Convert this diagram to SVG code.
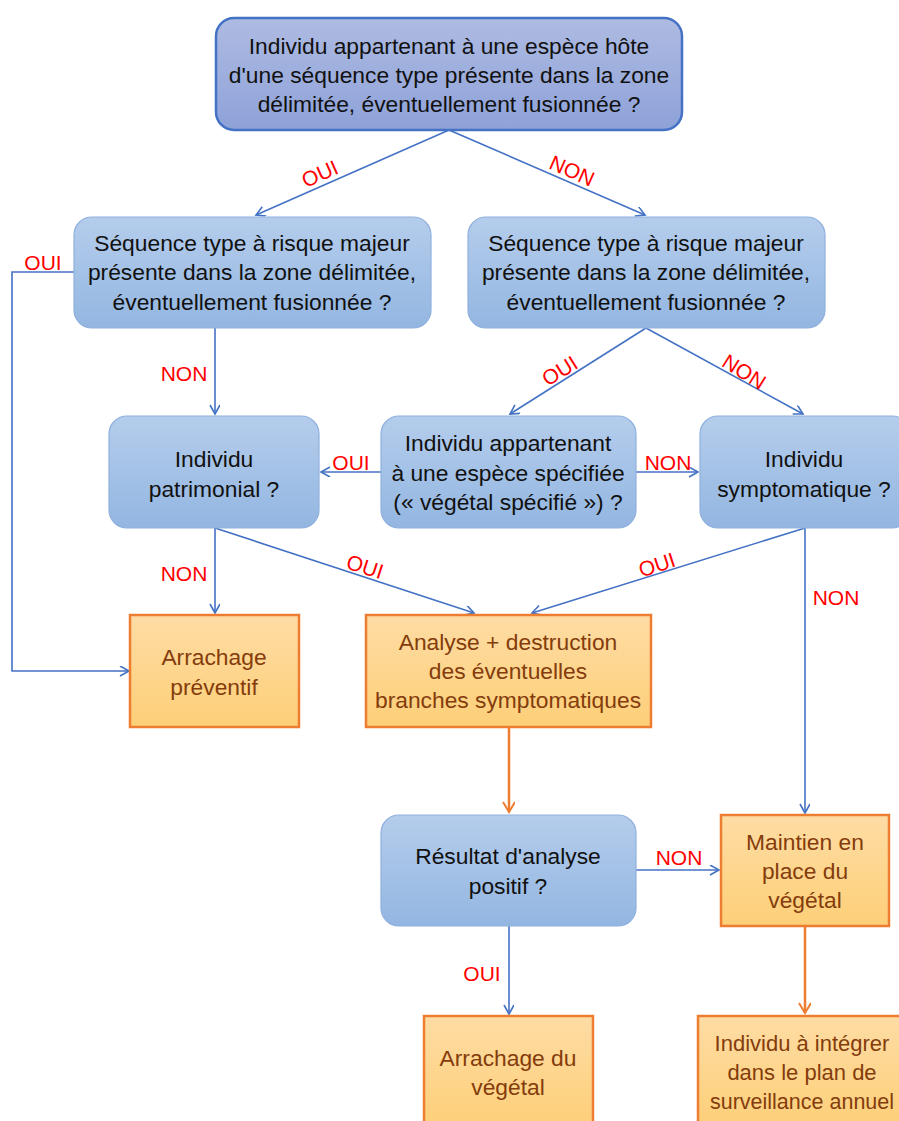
<svg xmlns="http://www.w3.org/2000/svg" width="899" height="1121" viewBox="0 0 899 1121">
<defs>
<linearGradient id="gTop" x1="0" y1="0" x2="0" y2="1"><stop offset="0" stop-color="#aebbe2"/><stop offset="1" stop-color="#8ea2d9"/></linearGradient>
<linearGradient id="gBlue" x1="0" y1="0" x2="0" y2="1"><stop offset="0" stop-color="#b5cdec"/><stop offset="1" stop-color="#93b6e1"/></linearGradient>
<linearGradient id="gOr" x1="0" y1="0" x2="0" y2="1"><stop offset="0" stop-color="#fedca4"/><stop offset="1" stop-color="#fdcf78"/></linearGradient>
<marker id="ab" markerWidth="12" markerHeight="12" refX="10" refY="5" orient="auto" markerUnits="userSpaceOnUse"><path d="M1,0 L10,5 L1,10" fill="none" stroke="#4472c4" stroke-width="1.6"/></marker>
<marker id="ao" markerWidth="14" markerHeight="14" refX="11" refY="6" orient="auto" markerUnits="userSpaceOnUse"><path d="M1,0 L11,6 L1,12" fill="none" stroke="#ed7d31" stroke-width="2"/></marker>
</defs>
<style>
.t{font-family:"Liberation Sans",Arial,sans-serif;font-size:22.8px;text-anchor:middle;fill:#111}
.to{font-family:"Liberation Sans",Arial,sans-serif;font-size:22.8px;text-anchor:middle;fill:#843c0c}
.lb{font-family:"Liberation Sans",Arial,sans-serif;font-size:21px;fill:#ff0000;text-anchor:middle}
.bl{fill:url(#gBlue);stroke:#8fb0de;stroke-width:1.2}
.or{fill:url(#gOr);stroke:#ed7d31;stroke-width:2.5}
.cb{fill:none;stroke:#4472c4;stroke-width:1.6;marker-end:url(#ab)}
.co{fill:none;stroke:#ed7d31;stroke-width:2.5;marker-end:url(#ao)}
</style>
<g id="connectors">
<path class="cb" d="M449,130 L256,215"/>
<path class="cb" d="M449,130 L645,215"/>
<path class="cb" d="M74,272 L12,272 L12,671 L129,671"/>
<path class="cb" d="M215,328 L215,414"/>
<path class="cb" d="M646,328 L510,414"/>
<path class="cb" d="M646,328 L803,414"/>
<path class="cb" d="M381,472 L321,472"/>
<path class="cb" d="M636,472 L698,472"/>
<path class="cb" d="M215,528 L215,613"/>
<path class="cb" d="M215,528 L474,613"/>
<path class="cb" d="M805,528 L532,613"/>
<path class="cb" d="M805,528 L805,813"/>
<path class="co" d="M509,728 L509,812"/>
<path class="cb" d="M636,870 L719,870"/>
<path class="cb" d="M509,926 L509,1014"/>
<path class="co" d="M805,927 L805,1013"/>
<text class="lb" x="320" y="181" transform="rotate(-24 320 174)">OUI</text>
<text class="lb" x="572" y="178" transform="rotate(24 572 171)">NON</text>
<text class="lb" x="43" y="270">OUI</text>
<text class="lb" x="184" y="381">NON</text>
<text class="lb" x="560" y="378" transform="rotate(-32 560 371)">OUI</text>
<text class="lb" x="744" y="379" transform="rotate(32 744 372)">NON</text>
<text class="lb" x="351" y="470">OUI</text>
<text class="lb" x="668" y="470">NON</text>
<text class="lb" x="184" y="581">NON</text>
<text class="lb" x="365" y="574" transform="rotate(18 365 567)">OUI</text>
<text class="lb" x="657" y="572" transform="rotate(-18 657 565)">OUI</text>
<text class="lb" x="836" y="605">NON</text>
<text class="lb" x="679" y="865">NON</text>
<text class="lb" x="482" y="981">OUI</text>
</g>
<g id="n1">
<rect x="216" y="18" width="466" height="112" rx="18" fill="url(#gTop)" stroke="#4472c4" stroke-width="2.5"/>
<text class="t" x="449" y="54">Individu appartenant à une espèce hôte</text>
<text class="t" x="449" y="83">d'une séquence type présente dans la zone</text>
<text class="t" x="449" y="112">délimitée, éventuellement fusionnée ?</text>
</g>
<g id="n2">
<rect class="bl" x="74" y="217" width="357" height="111" rx="18"/>
<text class="t" x="252" y="251">Séquence type à risque majeur</text>
<text class="t" x="252" y="280">présente dans la zone délimitée,</text>
<text class="t" x="252" y="310">éventuellement fusionnée ?</text>
</g>
<g id="n3">
<rect class="bl" x="468" y="217" width="357" height="111" rx="18"/>
<text class="t" x="646" y="251">Séquence type à risque majeur</text>
<text class="t" x="646" y="280">présente dans la zone délimitée,</text>
<text class="t" x="646" y="310">éventuellement fusionnée ?</text>
</g>
<g id="n4">
<rect class="bl" x="109" y="416" width="210" height="112" rx="18"/>
<text class="t" x="214" y="467">Individu</text>
<text class="t" x="214" y="497">patrimonial ?</text>
</g>
<g id="n5">
<rect class="bl" x="381" y="416" width="255" height="112" rx="18"/>
<text class="t" x="508" y="451">Individu appartenant</text>
<text class="t" x="508" y="481">à une espèce spécifiée</text>
<text class="t" x="508" y="510">(« végétal spécifié ») ?</text>
</g>
<g id="n6">
<rect class="bl" x="700" y="416" width="210" height="112" rx="18"/>
<text class="t" x="804" y="467">Individu</text>
<text class="t" x="804" y="497">symptomatique ?</text>
</g>
<g id="n7">
<rect class="or" x="130" y="615" width="169" height="112"/>
<text class="to" x="214" y="665">Arrachage</text>
<text class="to" x="214" y="695">préventif</text>
</g>
<g id="n8">
<rect class="or" x="366" y="615" width="285" height="112"/>
<text class="to" x="508" y="650">Analyse + destruction</text>
<text class="to" x="508" y="679">des éventuelles</text>
<text class="to" x="508" y="708">branches symptomatiques</text>
</g>
<g id="n9">
<rect class="bl" x="381" y="815" width="255" height="111" rx="18"/>
<text class="t" x="508" y="864">Résultat d'analyse</text>
<text class="t" x="508" y="894">positif ?</text>
</g>
<g id="n10">
<rect class="or" x="721" y="815" width="168" height="111"/>
<text class="to" x="805" y="850">Maintien en</text>
<text class="to" x="805" y="879">place du</text>
<text class="to" x="805" y="908">végétal</text>
</g>
<g id="n11">
<rect class="or" x="424" y="1016" width="169" height="112"/>
<text class="to" x="508" y="1066">Arrachage du</text>
<text class="to" x="508" y="1095">végétal</text>
</g>
<g id="n12">
<rect class="or" x="698" y="1016" width="212" height="112"/>
<text class="to" x="802" y="1051" style="font-size:22px">Individu à intégrer</text>
<text class="to" x="802" y="1080" style="font-size:22px">dans le plan de</text>
<text class="to" x="802" y="1109" style="font-size:21.5px">surveillance annuel</text>
</g>
</svg>
